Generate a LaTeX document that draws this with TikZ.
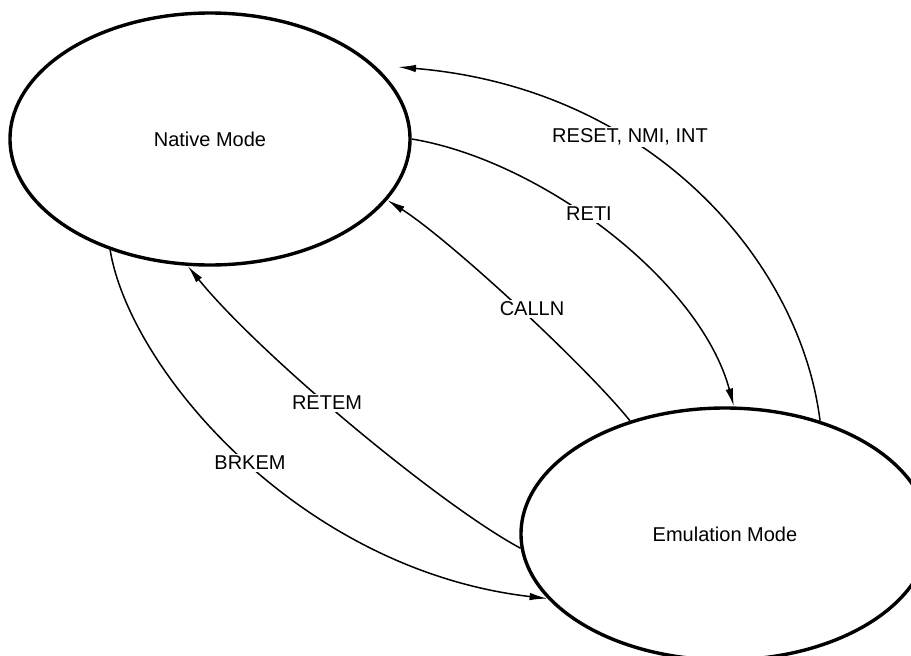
\documentclass[tikz,border=0pt]{standalone}
\usepackage{fontspec}
\setmainfont{Liberation Sans}
\usetikzlibrary{shapes.geometric,arrows.meta}
\tikzset{
  modebox/.style={ellipse, draw, line width=3.4pt, inner sep=0pt, font=\fontsize{20}{24}\selectfont},
  trans/.style={line width=1.5pt, -{Latex[length=18pt,width=7.5pt]}},
  lbl/.style={fill=white, inner sep=2pt, font=\fontsize{20}{24}\selectfont}
}
\begin{document}
\begin{tikzpicture}[x=1pt,y=-1pt]
\useasboundingbox (0,0) rectangle (911,656);
\node[modebox, minimum width=400pt, minimum height=252pt] (N) at (210,139) {Native Mode};
\node[modebox, minimum width=408pt, minimum height=252pt] (E) at (725,534) {Emulation Mode};
\coordinate (rtip) at (398,67);
% RESET, NMI, INT
\draw[trans] (E.50.6) .. controls (800,260) and (650,88) .. (rtip);
% RETI
\draw[trans] (N.east) .. controls (540,160) and (700,280) .. (E.86);
% CALLN
\draw[trans] (E.130) .. controls (585,365) and (450,240) .. (N.-19);
% RETEM
\draw[trans] (E.184) .. controls (440,505) and (260,355) .. (N.-100);
% BRKEM
\draw[trans] (N.-132.5) .. controls (130,370) and (300,570) .. (E.200);
\node[lbl] (l1) at (630,137) {RESET, NMI, INT};
\node[lbl] (l2) at (589,214) {RETI};
\node[lbl] (l3) at (532,309) {CALLN};
\node[lbl] (l4) at (327,403) {RETEM};
\node[lbl] (l5) at (250,463) {BRKEM};
\end{tikzpicture}
\end{document}
